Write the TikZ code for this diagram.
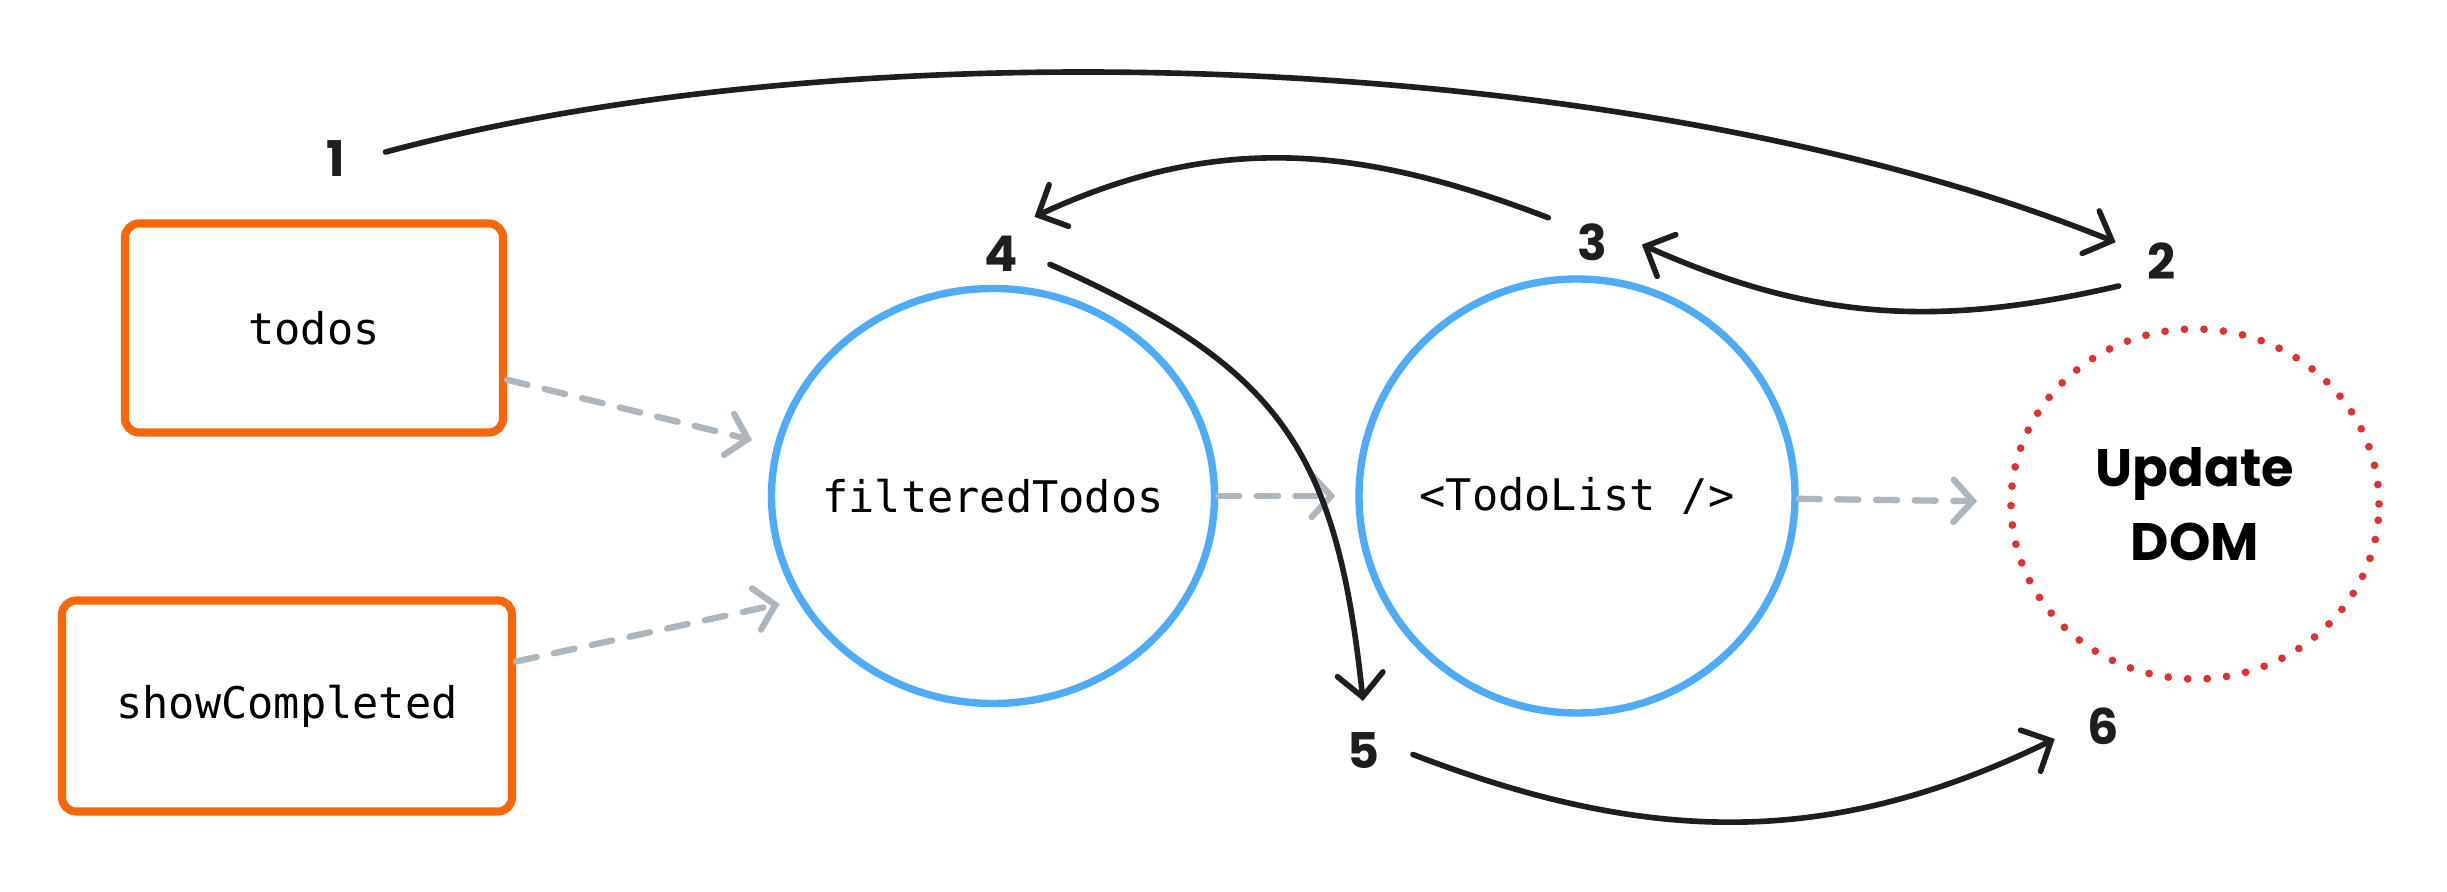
\documentclass[tikz,border=0pt]{standalone}
\usepackage{fontspec}
\setmonofont{DejaVu Sans Mono}
\newfontfamily\handfont{Poppins}
\usetikzlibrary{arrows.meta,shapes.geometric}
\definecolor{boxorange}{HTML}{F76707}
\definecolor{ringblue}{HTML}{4DABF7}
\definecolor{domred}{HTML}{E03131}
\definecolor{flowgray}{HTML}{ADB5BD}
\definecolor{inkblack}{HTML}{1E1E1E}
\tikzset{state/.style={draw=boxorange, line width=2.3pt, rounded corners=4pt, text=black, font=\ttfamily\fontsize{12.4}{15}\selectfont},
memo/.style={ellipse, draw=ringblue, line width=2.1pt, inner xsep=-0.8cm, inner ysep=0pt, text=black, font=\ttfamily\fontsize{12.4}{15}\selectfont},
dom/.style={ellipse, draw=domred, line width=2.2pt, line cap=round, dash pattern=on 0pt off 5.55pt, inner sep=0pt, align=center, text=black, font=\handfont\bfseries\fontsize{15}{21}\selectfont},
num/.style={circle, minimum size=1cm, inner sep=0pt, outer sep=0pt, text=inkblack, font=\handfont\bfseries\fontsize{14}{16}\selectfont},
flow/.style={draw=inkblack, line width=1.6pt, line cap=round, -{Straight Barb[length=6.5pt,width=13pt,line cap=round]}},
dep/.style={draw=flowgray, line width=1.8pt, line cap=round, dash pattern=on 6pt off 5pt, -{Straight Barb[length=5.5pt,width=12pt,line cap=round]}}}
\begin{document}
\begin{tikzpicture}
        \useasboundingbox (0,0) rectangle (24.47,8.92);

        % state
        \node[state, minimum width=3.78cm, minimum height=2.09cm] (todos) at (3.14,5.64) {todos};
        \node[state, minimum width=4.5cm, minimum height=2.11cm] (show) at (2.87,1.86) {showCompleted};

        % derived and component
        \node[memo, minimum width=4.43cm, minimum height=4.15cm] (filtered) at (9.93,3.96) {filteredTodos};
        \node[memo, minimum width=4.36cm, minimum height=4.34cm] (todolist) at (15.77,3.96) {<TodoList />};
        \node[dom, minimum width=3.68cm, minimum height=3.5cm] (update) at (21.95,3.88) {Update\\DOM};

        % dependencies
        \draw[dep, shorten >=0.23cm] (todos.-15) -- (filtered.167);
        \draw[dep, shorten >=0.18cm] (show.11) -- (filtered.208);
        \draw[dep, shorten >=0.2cm] (filtered) -- (todolist);
        \draw[dep, shorten >=0.3cm] (todolist) -- (update);

        % steps
        \foreach \n/\pos in {1/{(3.36,7.33)}, 2/{(21.62,6.31)}, 3/{(15.92,6.50)}, 4/{(10.01,6.38)}, 5/{(13.63,1.41)}, 6/{(21.03,1.66)}}{
            \node[num] (n\n) at \pos {\n};
        }
        \draw[flow] (n1.8) to[out=15, in=158, looseness=0.75] (n2.158);
        \draw[flow] (n2.210) to[out=193, in=-24] (n3.-3);
        \draw[flow] (n3.151) to[out=159, in=25] (n4.48);
        \draw[flow] (n4.-12) to[out=-24, in=96, looseness=1.2] (n5.90);
        \draw[flow] (n5.-4) to[out=-21, in=-154] (n6.195);

    \end{tikzpicture}
\end{document}
